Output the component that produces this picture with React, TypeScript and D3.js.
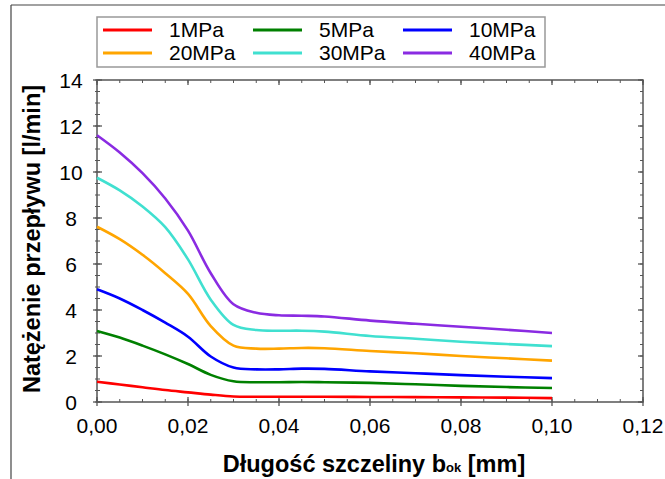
import React from "react";
import * as d3 from "d3";

const xValues = [0, 0.005, 0.01, 0.015, 0.02, 0.025, 0.03, 0.035, 0.04, 0.045, 0.05, 0.06, 0.07, 0.08, 0.09, 0.1];
const s1MPa = [0.88, 0.76, 0.64, 0.52, 0.42, 0.32, 0.24, 0.23, 0.23, 0.23, 0.23, 0.22, 0.21, 0.2, 0.19, 0.17];
const s5MPa = [3.09, 2.8, 2.45, 2.07, 1.65, 1.18, 0.9, 0.86, 0.86, 0.87, 0.86, 0.83, 0.77, 0.7, 0.65, 0.61];
const s10MPa = [4.9, 4.5, 4.0, 3.45, 2.84, 1.98, 1.5, 1.42, 1.42, 1.45, 1.44, 1.33, 1.25, 1.17, 1.1, 1.04];
const s20MPa = [7.62, 7.08, 6.4, 5.6, 4.7, 3.3, 2.45, 2.32, 2.32, 2.35, 2.34, 2.22, 2.12, 2.0, 1.9, 1.8];
const s30MPa = [9.75, 9.2, 8.5, 7.6, 6.2, 4.45, 3.35, 3.13, 3.1, 3.1, 3.06, 2.87, 2.75, 2.62, 2.52, 2.43];
const s40MPa = [11.6, 10.85, 9.95, 8.85, 7.45, 5.6, 4.25, 3.88, 3.77, 3.75, 3.72, 3.54, 3.4, 3.27, 3.14, 3.0];

const seriesNames = ["1MPa", "5MPa", "10MPa", "20MPa", "30MPa", "40MPa"];
const seriesValues = [s1MPa, s5MPa, s10MPa, s20MPa, s30MPa, s40MPa];
const seriesColors = ["#ff0000", "#008000", "#0000ff", "#ffa500", "#40e0d0", "#8a2be2"];

const xTicks = [0, 0.02, 0.04, 0.06, 0.08, 0.1, 0.12];
const yTicks = [0, 2, 4, 6, 8, 10, 12, 14];

const W = 665;
const H = 479;
const left = 97;
const right = 643;
const top = 80;
const bottom = 402;
const FONT = "'Liberation Sans', Arial, sans-serif";

export default function App() {
  const x = d3.scaleLinear().domain([0, 0.12]).range([left, right]);
  const y = d3.scaleLinear().domain([0, 14]).range([bottom, top]);
  const line = d3
    .line<[number, number]>()
    .x((d) => x(d[0]))
    .y((d) => y(d[1]))
    .curve(d3.curveCatmullRom.alpha(0.5));

  const xMinor = d3.range(0, 0.1201, 0.005);
  const yMinor = d3.range(0, 14.01, 0.5);
  const fmt = (v: number) => v.toFixed(2).replace(".", ",");
  const axisColor = "#555";

  const legendOrder = [0, 1, 2, 3, 4, 5];
  const colX = [103, 253, 403];
  const rowY = [30, 53];

  return (
    <svg
      width={W}
      height={H}
      style={{ position: "absolute", left: 0, top: 0, background: "#fff" }}
      fontFamily={FONT}
    >
      <rect x={0} y={0} width={W} height={H} fill="#fff" />
      <line x1={11} y1={5} x2={W} y2={5} stroke="#444" strokeWidth={1.2} />
      <line x1={11} y1={5} x2={11} y2={H} stroke="#444" strokeWidth={1.2} />

      <rect x={97} y={17} width={448} height={50} fill="#fff" stroke="#999" strokeWidth={1.5} />
      {legendOrder.map((i, k) => {
        const cx = colX[k % 3];
        const cy = rowY[Math.floor(k / 3)];
        return (
          <g key={"lg" + i}>
            <line x1={cx} y1={cy} x2={cx + 49} y2={cy} stroke={seriesColors[i]} strokeWidth={3} />
            <text x={cx + 66} y={cy + 7} fontSize={21} fill="#000">
              {seriesNames[i]}
            </text>
          </g>
        );
      })}

      <rect x={left} y={top} width={right - left} height={bottom - top} fill="none" stroke={axisColor} strokeWidth={1.5} />

      {xMinor.map((v, i) => (
        <g key={"xm" + i}>
          <line x1={x(v)} x2={x(v)} y1={bottom - 3} y2={bottom} stroke={axisColor} strokeWidth={1} />
          <line x1={x(v)} x2={x(v)} y1={top} y2={top + 3} stroke={axisColor} strokeWidth={1} />
        </g>
      ))}
      {yMinor.map((v, i) => (
        <g key={"ym" + i}>
          <line x1={left - 2} x2={left + 3} y1={y(v)} y2={y(v)} stroke={axisColor} strokeWidth={1} />
          <line x1={right - 3} x2={right} y1={y(v)} y2={y(v)} stroke={axisColor} strokeWidth={1} />
        </g>
      ))}
      {xTicks.map((v, i) => (
        <g key={"xt" + i}>
          <line x1={x(v)} x2={x(v)} y1={bottom - 5} y2={bottom + 4} stroke={axisColor} strokeWidth={1.3} />
          <line x1={x(v)} x2={x(v)} y1={top} y2={top + 5} stroke={axisColor} strokeWidth={1.3} />
          <text x={x(v)} y={433} fontSize={21} textAnchor="middle" fill="#000">
            {fmt(v)}
          </text>
        </g>
      ))}
      {yTicks.map((v, i) => (
        <g key={"yt" + i}>
          <line x1={left - 4} x2={left + 5} y1={y(v)} y2={y(v)} stroke={axisColor} strokeWidth={1.3} />
          <line x1={right - 5} x2={right} y1={y(v)} y2={y(v)} stroke={axisColor} strokeWidth={1.3} />
          <text x={71} y={y(v)} dy="0.36em" fontSize={21} textAnchor="middle" fill="#000">
            {v}
          </text>
        </g>
      ))}

      {seriesValues.map((vals, i) => (
        <path
          key={"s" + i}
          d={line(vals.map((v, j) => [xValues[j], v] as [number, number])) || ""}
          fill="none"
          stroke={seriesColors[i]}
          strokeWidth={2.6}
        />
      ))}

      <text x={374} y={472} fontSize={23.5} fontWeight="bold" textAnchor="middle" fill="#000">
        Długość szczeliny b
        <tspan fontSize={13}>ok</tspan>
        <tspan> [mm]</tspan>
      </text>
      <text
        transform={`translate(40,239) rotate(-90)`}
        fontSize={23.5}
        fontWeight="bold"
        textAnchor="middle"
        fill="#000"
      >
        Natężenie przepływu [l/min]
      </text>
    </svg>
  );
}
